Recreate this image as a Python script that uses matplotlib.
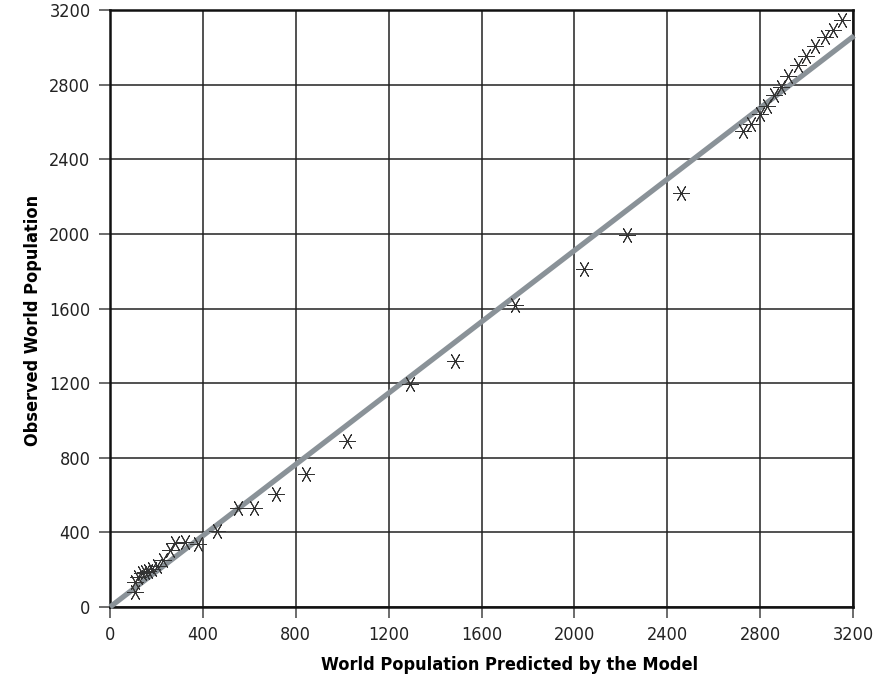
import numpy as np
import matplotlib.pyplot as plt

# values
predicted = [108, 108, 120, 137, 150, 163, 180, 202, 228, 258, 280, 323, 378, 460,
             551, 619, 714, 843, 1019, 1290, 1484, 1746, 2043, 2228, 2460,
             2727, 2761, 2800, 2830, 2860, 2890, 2921, 2963, 2998, 3037, 3080, 3114, 3153]
observed = [81, 134, 161, 183, 188, 194, 204, 220, 253, 306, 344, 349, 339, 409,
            532, 532, 607, 715, 892, 1194, 1320, 1618, 1812, 1995, 2220,
            2554, 2591, 2640, 2683, 2742, 2790, 2844, 2903, 2952, 3005, 3054, 3091, 3145]
fit_x = [0, 3205]
fit_y = [0, 3062]
ticks = [0, 400, 800, 1200, 1600, 2000, 2400, 2800, 3200]

plt.rcParams['font.family'] = ['DejaVu Sans']
plt.rcParams['font.stretch'] = 'condensed'

fig = plt.figure(figsize=(8.88, 6.82), dpi=100)
ax = fig.add_axes([0.1239, 0.110, 0.8367, 0.8753])

ax.plot(fit_x, fit_y, color='#8a9298', lw=3.8, solid_capstyle='butt', zorder=3, clip_on=False)
ax.plot(predicted, observed, ls='none', marker=(6, 2, 90), ms=12, mew=0.7,
        color='#333333', zorder=4)

ax.set_xlim(0, 3200)
ax.set_ylim(0, 3200)
ax.set_xticks(ticks)
ax.set_yticks(ticks)
ax.grid(True, color='#222222', lw=1.1)
ax.set_axisbelow(True)
ax.tick_params(direction='out', length=8, width=1.1, color='#444444',
               labelsize=13, pad=6, labelcolor='#222222')
for s in ax.spines.values():
    s.set_linewidth(1.8)
    s.set_color('#111111')

ax.set_xlabel('World Population Predicted by the Model', fontsize=13, fontweight='bold',
              va='center')
ax.set_ylabel('Observed World Population', fontsize=13, fontweight='bold', va='center')
ax.xaxis.set_label_coords(0.538, -0.097)
ax.yaxis.set_label_coords(-0.104, 0.48)

fig.savefig('out.png', dpi=100)
